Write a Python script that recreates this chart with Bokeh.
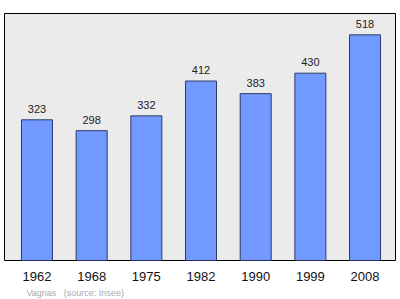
from bokeh.plotting import figure
from bokeh.models import FixedTicker, Range1d, Title, ColumnDataSource
from bokeh.core.properties import value
from bokeh.embed import file_html
from bokeh.resources import INLINE

years = ["1962", "1968", "1975", "1982", "1990", "1999", "2008"]
population = [323, 298, 332, 412, 383, 430, 518]
source_note = "Vagnas\u00a0\u00a0 (source: Insee)"

xs = list(range(len(years)))
src = ColumnDataSource(dict(x=xs, top=population, lbl=[str(v) for v in population]))

p = figure(width=400, height=299, output_backend="svg", toolbar_location=None,
           x_range=Range1d(-0.594, 6.557), y_range=Range1d(0, 567),
           min_border_left=4, min_border_right=5, min_border_top=13, min_border_bottom=0)
p.background_fill_color = "#ebebeb"
p.border_fill_color = "white"
p.outline_line_color = "black"
p.outline_line_width = 1
p.grid.visible = False
p.yaxis.visible = False

p.vbar(x="x", top="top", width=0.567, source=src, fill_color="#7199ff", line_color="#2c3a66", line_width=1)
p.text(x="x", y="top", text="lbl", source=src, text_align="center", text_baseline="bottom",
       y_offset=-7, text_font_size="11px", text_color="#222222", text_font=value("Liberation Sans"))

ax = p.xaxis[0]
ax.ticker = FixedTicker(ticks=xs)
ax.major_label_overrides = {i: y for i, y in enumerate(years)}
ax.axis_line_color = None
ax.major_tick_line_color = None
ax.minor_tick_line_color = None
ax.major_label_standoff = 5
ax.major_label_text_font = "Liberation Sans"
ax.major_label_text_font_size = "13px"
ax.major_label_text_color = "#111111"

note = Title(text=source_note, align="left", offset=22, standoff=4,
             text_font_size="9px", text_color="#aaaaaa", text_font="Liberation Sans",
             text_font_style="normal")
p.add_layout(note, "below")

open("out.html", "w").write(file_html(p, INLINE))
